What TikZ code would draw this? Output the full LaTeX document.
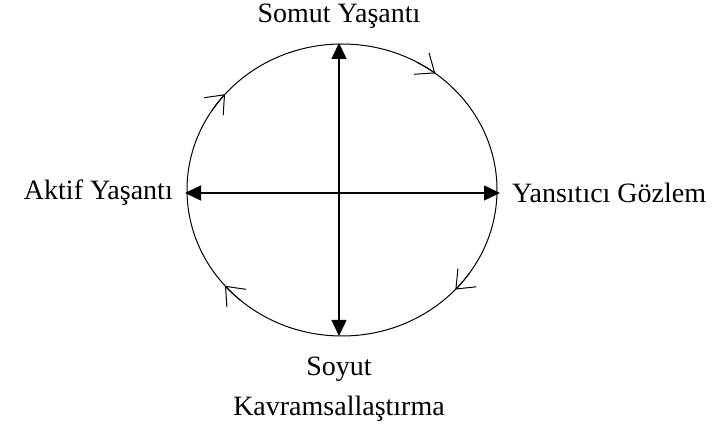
\documentclass[tikz,border=0pt]{standalone}
\usepackage{fontspec}
\setmainfont{Liberation Serif}
\usetikzlibrary{arrows.meta,positioning}
\tikzset{
  axis/.style={{Triangle[length=16pt,width=15pt]}-{Triangle[length=16pt,width=15pt]}, line width=1.4pt},
  ring/.style={line width=1pt},
  barb/.style={-{Straight Barb[length=16pt,width=26pt,line width=1pt]}, line width=1pt},
  lbl/.style={font=\fontsize{28}{32}\selectfont, inner sep=0pt, align=center},
}
\begin{document}
\begin{tikzpicture}[x=1pt,y=1pt]
  \useasboundingbox (0,0) rectangle (715,430);
  \coordinate (c) at (342,240);
  \draw[ring] (c) ellipse[x radius=155pt, y radius=146pt];

  \coordinate (n) at (339,387);
  \coordinate (s) at (339,94);
  \coordinate (w) at (185,237);
  \coordinate (e) at (500,237);
  \draw[axis] (s) -- (n);
  \draw[axis] (e) -- (w);

  \foreach \t/\u in {53/61,139/147,221/229,317/325}
    \draw[barb] ([shift={(\u:155pt and 146pt)}]c)
      arc[start angle=\u, end angle=\t, x radius=155pt, y radius=146pt];

  \node[lbl, above=14pt of n] (somut) {Somut Yaşantı};
  \node[lbl, left=12pt of w] (aktif) {Aktif Yaşantı};
  \node[lbl, right=12pt of e] (yansit) {Yansıtıcı Gözlem};
  \node[lbl, below=21pt of s] (soyut) {Soyut\\[8pt]Kavramsallaştırma};
\end{tikzpicture}
\end{document}
